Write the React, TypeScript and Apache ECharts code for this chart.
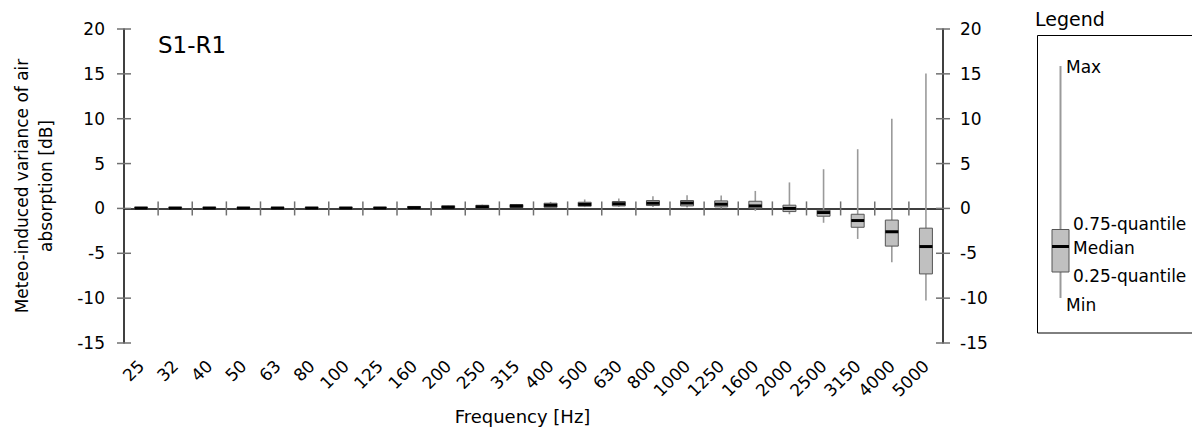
import React, { useEffect, useRef } from 'react';
import * as echarts from 'echarts';

const frequencies = ['25', '32', '40', '50', '63', '80', '100', '125', '160', '200', '250', '315', '400', '500', '630', '800', '1000', '1250', '1600', '2000', '2500', '3150', '4000', '5000'];
const minValues = [-0.1, -0.1, -0.1, -0.1, -0.1, -0.1, -0.1, -0.1, -0.1, -0.05, 0, 0.05, 0.1, 0.15, 0.2, 0.17, 0.1, 0.0, -0.28, -0.65, -1.6, -3.4, -6.0, -10.25];
const q1Values = [-0.08, -0.08, -0.08, -0.08, -0.08, -0.08, -0.08, -0.08, -0.05, 0.0, 0.02, 0.1, 0.13, 0.25, 0.28, 0.32, 0.28, 0.17, 0.02, -0.35, -0.87, -2.1, -4.2, -7.3];
const medianValues = [0.04, 0.04, 0.04, 0.04, 0.04, 0.04, 0.04, 0.04, 0.08, 0.12, 0.18, 0.27, 0.35, 0.45, 0.52, 0.58, 0.6, 0.47, 0.28, 0.0, -0.46, -1.35, -2.6, -4.25];
const q3Values = [0.12, 0.12, 0.12, 0.12, 0.12, 0.12, 0.12, 0.12, 0.22, 0.3, 0.35, 0.43, 0.58, 0.69, 0.77, 0.88, 0.88, 0.84, 0.8, 0.36, -0.2, -0.65, -1.3, -2.2];
const maxValues = [0.15, 0.15, 0.15, 0.15, 0.15, 0.15, 0.15, 0.15, 0.28, 0.35, 0.42, 0.5, 0.73, 1.0, 1.1, 1.36, 1.47, 1.44, 1.95, 2.9, 4.37, 6.6, 10.0, 15.05];
const yTickValues = [-15, -10, -5, 0, 5, 10, 15, 20];

const panelTitle = 'S1-R1';
const legendLabels = ['Max', '0.75-quantile', 'Median', '0.25-quantile', 'Min'];

const FONT = "'DejaVu Sans', 'Liberation Sans', Arial, sans-serif";
const WHISKER = '#9a9a9a';
const BOX_FILL = '#c0c0c0';
const BOX_BORDER = '#555555';
const TICK = '#707070';

export default function App() {
  const ref = useRef<HTMLDivElement>(null);

  useEffect(() => {
    if (!ref.current) return;
    const chart = echarts.init(ref.current, null, { renderer: 'svg' });
    const data = frequencies.map((_, i) => [i, minValues[i], q1Values[i], medianValues[i], q3Values[i], maxValues[i]]);

    const yBase = { type: 'value', min: -15, max: 20, interval: 5, splitLine: { show: false } };

    chart.setOption({
      animation: false,
      textStyle: { fontFamily: FONT },
      grid: { left: 124, right: 249, top: 29, bottom: 84, containLabel: false, outerBoundsMode: 'none' },
      xAxis: [
        {
          type: 'category', data: frequencies, position: 'bottom',
          axisLine: { show: false, onZero: false }, axisTick: { show: false },
          axisLabel: { rotate: 45, interval: 0, fontSize: 17, color: '#000', margin: 20, fontFamily: FONT },
          name: 'Frequency [Hz]', nameLocation: 'middle', nameGap: 64,
          nameTextStyle: { fontSize: 18, color: '#000', fontFamily: FONT, padding: [0, 22, 0, 0] },
        },
        {
          type: 'category', data: frequencies, position: 'bottom',
          axisLine: { show: true, onZero: true, onZeroAxisIndex: 0, lineStyle: { color: '#000', width: 1.5 } },
          axisTick: { show: false },
          axisLabel: { show: false },
        },
      ],
      yAxis: [
        {
          ...yBase, position: 'left',
          axisLine: { show: true, lineStyle: { color: '#000', width: 1.5 } },
          axisTick: { show: false },
          axisLabel: { fontSize: 17, color: '#000', margin: 19, fontFamily: FONT },
          name: 'Meteo-induced variance of air\nabsorption [dB]', nameLocation: 'middle', nameGap: 66,
          nameTextStyle: { fontSize: 17, color: '#000', lineHeight: 24, fontFamily: FONT },
        },
        {
          ...yBase, position: 'right',
          axisLine: { show: true, lineStyle: { color: '#000', width: 1.5 } },
          axisTick: { show: false },
          axisLabel: { fontSize: 17, color: '#000', margin: 17, fontFamily: FONT },
        },
      ],
      series: [
        {
          type: 'custom',
          xAxisIndex: 0,
          yAxisIndex: 0,
          z: 3,
          clip: false,
          data,
          encode: { x: 0, y: [1, 2, 3, 4, 5] },
          renderItem: (params: any, api: any) => {
            const idx = api.value(0);
            const pMin = api.coord([idx, api.value(1)]);
            const pQ1 = api.coord([idx, api.value(2)]);
            const pMed = api.coord([idx, api.value(3)]);
            const pQ3 = api.coord([idx, api.value(4)]);
            const pMax = api.coord([idx, api.value(5)]);
            const zero = api.coord([idx, 0]);
            const cx = pMed[0];
            const band = api.size([1, 0])[0];
            const bw = band * 0.38;
            const children: any[] = [];
            if (params.dataIndex < frequencies.length - 1) {
              const tx = cx + band / 2;
              children.push({ type: 'rect', shape: { x: tx - 0.75, y: zero[1] - 7, width: 1.5, height: 14 }, style: { fill: TICK } });
            }
            if (params.dataIndex === 0) {
              const cs = params.coordSys;
              const xl = cs.x;
              const xr = cs.x + cs.width;
              yTickValues.forEach((v) => {
                const y = api.coord([idx, v])[1];
                children.push({ type: 'rect', shape: { x: xl - 7, y: y - 0.75, width: 14, height: 1.5 }, style: { fill: TICK } });
                children.push({ type: 'rect', shape: { x: xr - 7, y: y - 0.75, width: 14, height: 1.5 }, style: { fill: TICK } });
              });
            }
            children.push(
              { type: 'line', shape: { x1: cx, y1: pMax[1], x2: cx, y2: pQ3[1] }, style: { stroke: WHISKER, lineWidth: 1.6 } },
              { type: 'line', shape: { x1: cx, y1: pQ1[1], x2: cx, y2: pMin[1] }, style: { stroke: WHISKER, lineWidth: 1.6 } },
              { type: 'rect', shape: { x: cx - bw / 2, y: pQ3[1], width: bw, height: Math.max(pQ1[1] - pQ3[1], 0.5) }, style: { fill: BOX_FILL, stroke: BOX_BORDER, lineWidth: 1 } },
              { type: 'line', shape: { x1: cx - bw / 2, y1: pMed[1], x2: cx + bw / 2, y2: pMed[1] }, style: { stroke: '#000', lineWidth: 3 } },
            );
            return { type: 'group', children };
          },
        },
      ],
      graphic: [
        { type: 'text', left: 158, top: 33, style: { text: panelTitle, fontSize: 23, fill: '#000', fontFamily: FONT } },
        { type: 'text', left: 1035, top: 9, style: { text: 'Legend', fontSize: 19, fill: '#000', fontFamily: FONT } },
        { type: 'rect', shape: { x: 1037.5, y: 35.5, width: 220, height: 297.5 }, style: { fill: 'none', stroke: '#000', lineWidth: 1 } },
        { type: 'line', shape: { x1: 1060.5, y1: 66, x2: 1060.5, y2: 298 }, style: { stroke: WHISKER, lineWidth: 2 } },
        { type: 'rect', shape: { x: 1052, y: 229.5, width: 17, height: 42.5 }, style: { fill: BOX_FILL, stroke: BOX_BORDER, lineWidth: 1 } },
        { type: 'line', shape: { x1: 1052, y1: 246.5, x2: 1069, y2: 246.5 }, style: { stroke: '#000', lineWidth: 3 } },
        { type: 'text', x: 1066, y: 67, style: { text: legendLabels[0], fontSize: 17, fill: '#000', fontFamily: FONT, verticalAlign: 'middle' } },
        { type: 'text', x: 1073, y: 224, style: { text: legendLabels[1], fontSize: 17, fill: '#000', fontFamily: FONT, verticalAlign: 'middle' } },
        { type: 'text', x: 1073, y: 248, style: { text: legendLabels[2], fontSize: 17, fill: '#000', fontFamily: FONT, verticalAlign: 'middle' } },
        { type: 'text', x: 1073, y: 276, style: { text: legendLabels[3], fontSize: 17, fill: '#000', fontFamily: FONT, verticalAlign: 'middle' } },
        { type: 'text', x: 1066, y: 305, style: { text: legendLabels[4], fontSize: 17, fill: '#000', fontFamily: FONT, verticalAlign: 'middle' } },
      ],
    });

    return () => chart.dispose();
  }, []);

  return <div ref={ref} style={{ position: 'fixed', left: 0, top: 0, width: 1192, height: 427, background: '#fff' }} />;
}
